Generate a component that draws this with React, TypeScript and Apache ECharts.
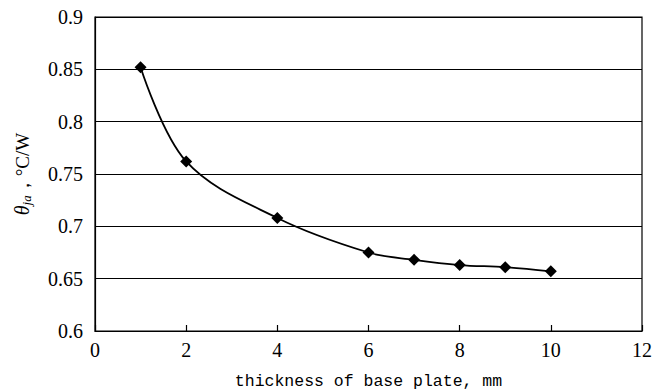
import React, { useEffect, useRef } from "react";
import * as echarts from "echarts";

const thickness = [1, 2, 4, 6, 7, 8, 9, 10];
const theta = [0.852, 0.762, 0.708, 0.675, 0.668, 0.663, 0.661, 0.657];
const xTicks = { min: 0, max: 12, interval: 2 };
const yTicks = { min: 0.6, max: 0.9, interval: 0.05 };
const xTitle = "thickness of base plate, mm";

export default function App() {
  const ref = useRef<HTMLDivElement>(null);
  useEffect(() => {
    if (!ref.current) return;
    const chart = echarts.init(ref.current, null, { renderer: "svg" });
    const serif = "Liberation Serif";
    const mono = "Liberation Mono";
    chart.setOption({
      animation: false,
      backgroundColor: "#fff",
      textStyle: { fontFamily: serif },
      grid: {
        left: 95,
        right: 22,
        top: 17,
        bottom: 59,
        containLabel: false,
        outerBoundsMode: "none",
        show: true,
        borderColor: "#000",
        borderWidth: 1.2,
      },
      xAxis: {
        type: "value",
        min: xTicks.min,
        max: xTicks.max,
        interval: xTicks.interval,
        name: xTitle,
        nameLocation: "middle",
        nameGap: 42,
        nameTextStyle: { fontFamily: mono, fontSize: 16.5, color: "#000" },
        axisLine: { show: true, lineStyle: { color: "#000", width: 1.2 } },
        axisTick: { show: true, inside: true, length: 6, lineStyle: { color: "#000", width: 1.2 } },
        axisLabel: {
          fontFamily: serif,
          fontSize: 20,
          color: "#000",
          margin: 9,
          showMinLabel: true,
          showMaxLabel: true,
        },
        splitLine: { show: false },
      },
      yAxis: {
        type: "value",
        min: yTicks.min,
        max: yTicks.max,
        interval: yTicks.interval,
        name: "{t|θ}{s|ja}{n|，°C/W}",
        nameLocation: "middle",
        nameGap: 62,
        nameTextStyle: {
          fontFamily: serif,
          rich: {
            t: { fontFamily: serif, fontStyle: "italic", fontSize: 20, color: "#000", lineHeight: 22 },
            s: {
              fontFamily: serif,
              fontStyle: "italic",
              fontSize: 13,
              color: "#000",
              lineHeight: 22,
              verticalAlign: "bottom",
              padding: [8, 0, 0, 0],
            },
            n: { fontFamily: serif, fontSize: 19, color: "#000", lineHeight: 22 },
          },
        },
        axisLine: { show: true, lineStyle: { color: "#000", width: 1.2 } },
        axisTick: { show: false },
        axisLabel: {
          fontFamily: serif,
          fontSize: 20,
          color: "#000",
          margin: 12,
          formatter: (v: number) => String(Math.round(v * 100) / 100),
        },
        splitLine: { show: true, lineStyle: { color: "#000", width: 1.2 } },
      },
      series: [
        {
          type: "line",
          data: thickness.map((x, i) => [x, theta[i]]),
          smooth: 0.35,
          symbol: "diamond",
          symbolSize: 12,
          lineStyle: { color: "#000", width: 1.8 },
          itemStyle: { color: "#000" },
        },
      ],
    });
    return () => chart.dispose();
  }, []);
  return (
    <div
      ref={ref}
      style={{ position: "absolute", left: 0, top: 0, width: 664, height: 390 }}
    />
  );
}
